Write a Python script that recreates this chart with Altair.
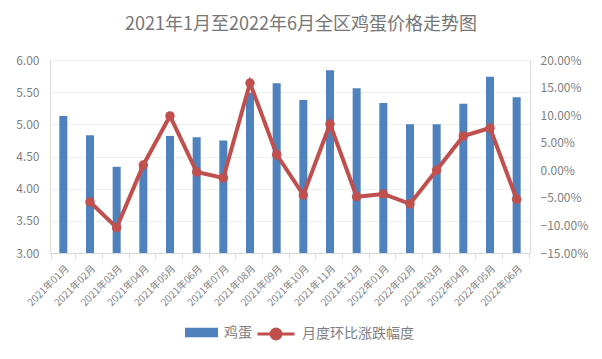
import altair as alt
import pandas as pd

months = ["2021年01月", "2021年02月", "2021年03月", "2021年04月", "2021年05月", "2021年06月",
          "2021年07月", "2021年08月", "2021年09月", "2021年10月", "2021年11月", "2021年12月",
          "2022年01月", "2022年02月", "2022年03月", "2022年04月", "2022年05月", "2022年06月"]
egg_price = [5.13, 4.83, 4.34, 4.38, 4.82, 4.80, 4.75, 5.49, 5.64, 5.38, 5.84, 5.56,
             5.33, 5.00, 5.00, 5.32, 5.74, 5.42]
mom_change = [None, -0.0575, -0.104, 0.0096, 0.0985, -0.0031, -0.014, 0.1583, 0.0283, -0.0448,
              0.0839, -0.048, -0.043, -0.061, 0.0005, 0.062, 0.0767, -0.0526]

FONT = "Noto Sans CJK SC"
GREY = "#7F7F7F"
BLUE = "#4F81BD"
RED = "#C0504D"

df = pd.DataFrame({"月份": months, "价格": egg_price, "环比": mom_change,
                   "s1": "鸡蛋", "s2": "月度环比涨跌幅度"})
df_line = df.dropna(subset=["环比"])

x = alt.X("月份:N", sort=months, title=None,
          axis=alt.Axis(labelAngle=-45, labelFontSize=10, labelColor=GREY, labelFont=FONT,
                        tickBand="extent", ticks=True, tickColor="#D9D9D9", tickSize=5,
                        domainColor="#D9D9D9", grid=False, labelPadding=5))

bars = alt.Chart(df).mark_bar(size=8).encode(
    x=x,
    y=alt.Y("价格:Q", title=None, scale=alt.Scale(domain=[3, 6], nice=False, zero=False),
            axis=alt.Axis(values=[3, 3.5, 4, 4.5, 5, 5.5, 6], format=".2f", orient="left",
                          labelFontSize=12, labelColor=GREY, labelFont=FONT, labelPadding=11,
                          ticks=False, domain=False, grid=True, gridColor="#EFEFEF")),
    y2=alt.datum(3),
    fill=alt.Fill("s1:N", scale=alt.Scale(domain=["鸡蛋"], range=[BLUE]),
                  legend=alt.Legend(title=None, orient="none", legendX=135, legendY=256,
                                    symbolType="M-1,-0.29H1V0.29H-1Z", symbolSize=1089,
                                    symbolStrokeWidth=0, labelFontSize=14, labelColor=GREY,
                                    labelFont=FONT, labelOffset=6)),
)

line = alt.Chart(df_line).mark_line(strokeWidth=4, point=alt.OverlayMarkDef(size=90, filled=True)).encode(
    x=alt.X("月份:N", sort=months),
    y=alt.Y("环比:Q", title=None, scale=alt.Scale(domain=[-0.15, 0.20], nice=False, zero=False),
            axis=alt.Axis(values=[-0.15, -0.10, -0.05, 0, 0.05, 0.10, 0.15, 0.20], format=".2%",
                          orient="right", labelFontSize=12, labelColor=GREY, labelFont=FONT,
                          labelPadding=10, ticks=False, domain=False, grid=False)),
    color=alt.Color("s2:N", scale=alt.Scale(domain=["月度环比涨跌幅度"], range=[RED]),
                    legend=alt.Legend(title=None, orient="none", legendX=206, legendY=254,
                                      symbolType="M-1,0H-0.27M0.27,0H1M-0.27,0A0.27,0.27 0 1,0 0.27,0A0.27,0.27 0 1,0 -0.27,0Z",
                                      symbolSize=1369, symbolStrokeWidth=3,
                                      symbolFillColor=RED, symbolStrokeColor=RED,
                                      labelFontSize=14, labelColor=GREY,
                                      labelFont=FONT, labelOffset=6)),
)

chart = alt.layer(bars, line).resolve_scale(y="independent", fill="independent", color="independent").properties(
    width=480, height=193,
    title=alt.TitleParams("2021年1月至2022年6月全区鸡蛋价格走势图", fontSize=18, fontWeight="normal",
                          color="#767676", font=FONT, anchor="middle", dx=11, offset=20),
    autosize=alt.AutoSizeParams(type="none"),
    padding={"left": 42, "top": 52, "right": 64, "bottom": 98},
).configure_view(stroke=None).configure(background="white")

chart.save("out.html", embed_options={"renderer": "svg", "actions": False})
